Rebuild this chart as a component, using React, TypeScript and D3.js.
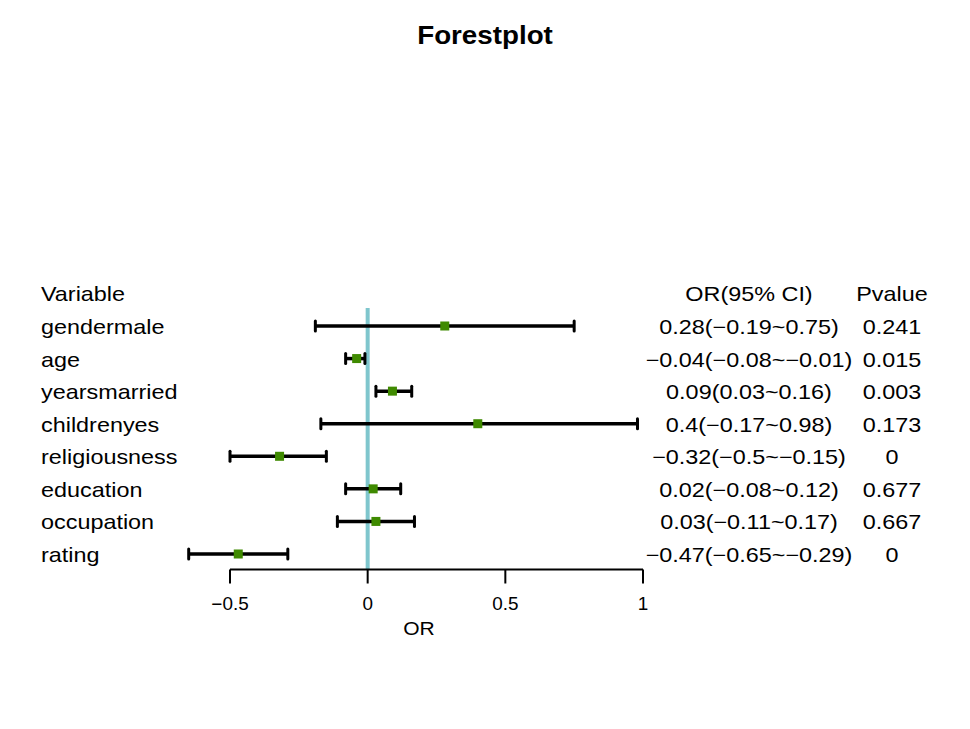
import * as d3 from "d3";
import React, { useEffect, useRef } from "react";

// forest plot data
const variables = [
  "gendermale",
  "age",
  "yearsmarried",
  "childrenyes",
  "religiousness",
  "education",
  "occupation",
  "rating",
];
const orValues = [0.28, -0.04, 0.09, 0.4, -0.32, 0.02, 0.03, -0.47];
const lowerCI = [-0.19, -0.08, 0.03, -0.17, -0.5, -0.08, -0.11, -0.65];
const upperCI = [0.75, -0.01, 0.16, 0.98, -0.15, 0.12, 0.17, -0.29];
const orLabels = [
  "0.28(\u22120.19~0.75)",
  "\u22120.04(\u22120.08~\u22120.01)",
  "0.09(0.03~0.16)",
  "0.4(\u22120.17~0.98)",
  "\u22120.32(\u22120.5~\u22120.15)",
  "0.02(\u22120.08~0.12)",
  "0.03(\u22120.11~0.17)",
  "\u22120.47(\u22120.65~\u22120.29)",
];
const pValues = ["0.241", "0.015", "0.003", "0.173", "0", "0.677", "0.667", "0"];
const xTicks = [-0.5, 0, 0.5, 1];

const width = 970;
const height = 729;
const font = "'Liberation Sans', Arial, sans-serif";
const sx = 1.17; // R device text looks a bit stretched horizontally

export default function App() {
  const ref = useRef<SVGSVGElement>(null);

  useEffect(() => {
    const svg = d3.select(ref.current);
    svg.selectAll("*").remove();

    const x = d3.scaleLinear().domain([-0.5, 1]).range([230, 643]);
    const y = d3.scalePoint().domain(variables).range([326, 554]);
    const step = y.step();
    const headerY = y(variables[0])! - step;
    const axisY = 569.5;

    const addText = (
      tx: number,
      ty: number,
      str: string,
      size: number,
      anchor: string,
      weight = "normal",
      scale = sx
    ) => {
      svg
        .append("text")
        .attr("transform", `translate(${tx},${ty}) scale(${scale},1)`)
        .attr("text-anchor", anchor)
        .style("font-family", font)
        .style("font-size", `${size}px`)
        .style("font-weight", weight)
        .attr("fill", "#000")
        .text(str);
    };

    // title
    addText(485, 44, "Forestplot", 25, "middle", "bold", 1.11);

    // headers
    addText(41, headerY + 8, "Variable", 20, "start");
    addText(749, headerY + 8, "OR(95% CI)", 20, "middle");
    addText(892, headerY + 8, "Pvalue", 20, "middle");

    variables.forEach((v, i) => {
      const yy = y(v)!;
      addText(41, yy + 8, v, 20, "start");
      addText(749, yy + 8, orLabels[i], 20, "middle");
      addText(892, yy + 8, pValues[i], 20, "middle");
    });

    // reference line at 0
    svg
      .append("line")
      .attr("x1", x(0))
      .attr("x2", x(0))
      .attr("y1", 308)
      .attr("y2", axisY)
      .attr("stroke", "#7fc6cd")
      .attr("stroke-width", 4);

    // CI lines + caps
    const g = svg.append("g");
    variables.forEach((v, i) => {
      const yy = y(v)!;
      g.append("line")
        .attr("x1", x(lowerCI[i]))
        .attr("x2", x(upperCI[i]))
        .attr("y1", yy)
        .attr("y2", yy)
        .attr("stroke", "#000")
        .attr("stroke-width", 3.5);
      [lowerCI[i], upperCI[i]].forEach((c) => {
        g.append("line")
          .attr("x1", x(c))
          .attr("x2", x(c))
          .attr("y1", yy - 5)
          .attr("y2", yy + 5)
          .attr("stroke", "#000")
          .attr("stroke-width", 3)
          .attr("stroke-linecap", "round");
      });
      g.append("rect")
        .attr("x", x(orValues[i]) - 4.5)
        .attr("y", yy - 4.5)
        .attr("width", 9)
        .attr("height", 9)
        .attr("fill", "#3f8a00");
    });

    // x axis
    const axis = svg.append("g");
    axis
      .append("line")
      .attr("x1", x(-0.5))
      .attr("x2", x(1))
      .attr("y1", axisY)
      .attr("y2", axisY)
      .attr("stroke", "#000")
      .attr("stroke-width", 2);
    xTicks.forEach((t) => {
      axis
        .append("line")
        .attr("x1", x(t))
        .attr("x2", x(t))
        .attr("y1", axisY)
        .attr("y2", axisY + 14)
        .attr("stroke", "#000")
        .attr("stroke-width", 2);
      addText(x(t), 610, d3.format("")(t).replace("-", "\u2212"), 18, "middle", "normal", 1.05);
    });
    addText(419, 635, "OR", 18, "middle");
  }, []);

  return (
    <svg
      ref={ref}
      width={width}
      height={height}
      style={{ position: "absolute", left: 0, top: 0, background: "#fff" }}
    />
  );
}
